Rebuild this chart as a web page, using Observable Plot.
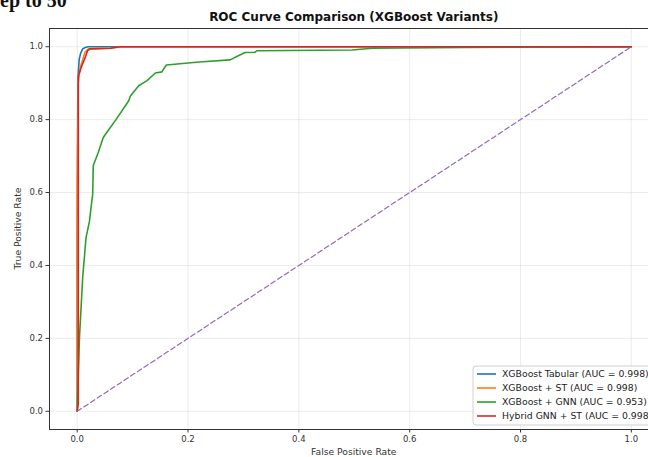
<!DOCTYPE html>
<html>
<head>
<meta charset="utf-8">
<script src="https://cdn.jsdelivr.net/npm/d3@7"></script>
<script src="https://cdn.jsdelivr.net/npm/@observablehq/plot@0.6"></script>
<style>
  html, body { margin: 0; padding: 0; background: #fff; }
  #chart { position: relative; width: 648px; height: 457px; overflow: hidden; }
</style>
</head>
<body>
<div id="chart"></div>
<script>
// ---- data ----
const titleText = "ROC Curve Comparison (XGBoost Variants)";
const cutText = "ep to 50";
const xLabel = "False Positive Rate";
const yLabel = "True Positive Rate";
const xTicks = [0, 0.2, 0.4, 0.6, 0.8, 1.0];
const yTicks = [0, 0.2, 0.4, 0.6, 0.8, 1.0];

const seriesNames = [
  "XGBoost Tabular (AUC = 0.998)",
  "XGBoost + ST (AUC = 0.998)",
  "XGBoost + GNN (AUC = 0.953)",
  "Hybrid GNN + ST (AUC = 0.998)"
];
const seriesColors = ["#1f77b4", "#ff7f0e", "#2ca02c", "#d62728"];

const tabularFpr = [0, 0, 0.001, 0.002, 0.0036, 0.0066, 0.010, 0.0144, 0.02, 1];
const tabularTpr = [0, 0.45, 0.85, 0.93, 0.966, 0.984, 0.994, 0.998, 1.0, 1];

const stFpr = [0, 0, 0.002, 0.005, 0.010, 0.014, 0.020, 0.060, 0.078, 1];
const stTpr = [0, 0.62, 0.90, 0.94, 0.965, 0.985, 0.994, 0.996, 1.0, 1];

const gnnFpr = [0, 0.004, 0.010, 0.016, 0.022, 0.028, 0.029, 0.038, 0.047, 0.051, 0.070, 0.093, 0.096,
  0.111, 0.126, 0.141, 0.153, 0.156, 0.161, 0.220, 0.276, 0.288, 0.303, 0.321, 0.324, 0.496, 0.532, 0.700, 1];
const gnnTpr = [0, 0.20, 0.37, 0.477, 0.52, 0.597, 0.674, 0.71, 0.751, 0.76, 0.80, 0.852, 0.865,
  0.893, 0.907, 0.928, 0.931, 0.939, 0.950, 0.958, 0.964, 0.973, 0.984, 0.985, 0.989, 0.991, 0.996, 0.998, 1];

const hybridFpr = [0, 0.002, 0.002, 0.0084, 0.0144, 0.0186, 0.023, 0.060, 0.078, 1];
const hybridTpr = [0, 0.02, 0.92, 0.948, 0.970, 0.989, 0.994, 0.996, 1.0, 1];

const diagFpr = [0, 1];
const diagTpr = [0, 1];

const xDomain = [-0.05, 1.031];
const yDomain = [-0.05, 1.05];

// ---- build tables ----
const allFpr = [tabularFpr, stFpr, gnnFpr, hybridFpr];
const allTpr = [tabularTpr, stTpr, gnnTpr, hybridTpr];
const rows = [];
seriesNames.forEach((name, i) => {
  allFpr[i].forEach((f, j) => rows.push({series: name, fpr: f, tpr: allTpr[i][j]}));
});
const diag = diagFpr.map((f, j) => ({fpr: f, tpr: diagTpr[j]}));

const font = "DejaVu Sans, sans-serif";
const fmt = d3.format(".1f");

const plot = Plot.plot({
  width: 648,
  height: 457,
  marginLeft: 49,
  marginRight: 0,
  marginTop: 28,
  marginBottom: 28,
  style: {fontFamily: font, fontSize: "8.5px", color: "#333", background: "#fff", overflow: "visible"},
  x: {domain: xDomain},
  y: {domain: yDomain},
  color: {domain: seriesNames, range: seriesColors},
  marks: [
    Plot.ruleX(xTicks, {stroke: "#b0b0b0", strokeOpacity: 0.3, strokeWidth: 0.8}),
    Plot.ruleY(yTicks, {stroke: "#b0b0b0", strokeOpacity: 0.3, strokeWidth: 0.8}),
    Plot.line(rows, {x: "fpr", y: "tpr", z: "series", stroke: "series", strokeWidth: 1.6, curve: "linear"}),
    Plot.line(diag, {x: "fpr", y: "tpr", stroke: "#9467bd", strokeWidth: 1.2, strokeDasharray: "5,3"}),
    Plot.ruleX([xDomain[0]], {stroke: "#333", strokeWidth: 1}),
    Plot.ruleY([yDomain[0]], {stroke: "#333", strokeWidth: 1}),
    Plot.ruleY([yDomain[1]], {stroke: "#333", strokeWidth: 1}),
    Plot.axisX({ticks: xTicks, tickFormat: fmt, tickSize: 3.5, tickPadding: 3, label: null, fill: "#333"}),
    Plot.axisY({ticks: yTicks, tickFormat: fmt, tickSize: 3.5, tickPadding: 3, label: null, fill: "#333"})
  ]
});

document.getElementById("chart").appendChild(plot);

// ---- decorations: title, axis labels, legend ----
const svg = d3.select(plot);
const xs = plot.scale("x"), ys = plot.scale("y");
const axLeft = xs.apply(xDomain[0]), axTop = ys.apply(yDomain[1]), axBottom = ys.apply(yDomain[0]);
const axRight = xs.apply(1.05);
const axMid = (axLeft + axRight) / 2;

svg.append("text")
  .attr("x", 0).attr("y", 7).attr("text-anchor", "start")
  .attr("font-family", "Liberation Serif, serif").attr("font-weight", "bold").attr("font-size", 20)
  .attr("fill", "#111").text(cutText);

svg.append("text")
  .attr("x", axMid).attr("y", axTop - 7)
  .attr("text-anchor", "middle").attr("font-family", font).attr("font-weight", "bold")
  .attr("font-size", 12).attr("fill", "#111").text(titleText);

svg.append("text")
  .attr("x", axMid).attr("y", axBottom + 26)
  .attr("text-anchor", "middle").attr("font-family", font).attr("font-size", 9.2)
  .attr("fill", "#333").text(xLabel);

svg.append("text")
  .attr("transform", `translate(${axLeft - 28},${(axTop + axBottom) / 2}) rotate(-90)`)
  .attr("text-anchor", "middle").attr("font-family", font).attr("font-size", 9.2)
  .attr("fill", "#333").text(yLabel);

const lg = svg.append("g").attr("transform", "translate(473,366)");
lg.append("rect").attr("width", 190).attr("height", 59).attr("rx", 3)
  .attr("fill", "#fff").attr("fill-opacity", 0.85).attr("stroke", "#d0d0d0");
seriesNames.forEach((name, i) => {
  const yy = 8 + i * 14;
  lg.append("line").attr("x1", 4).attr("x2", 23).attr("y1", yy).attr("y2", yy)
    .attr("stroke", seriesColors[i]).attr("stroke-width", 1.6);
  lg.append("text").attr("x", 29).attr("y", yy + 3.3).attr("text-anchor", "start")
    .attr("font-family", font).attr("font-size", 9.3).attr("fill", "#222").text(name);
});
</script>
</body>
</html>
